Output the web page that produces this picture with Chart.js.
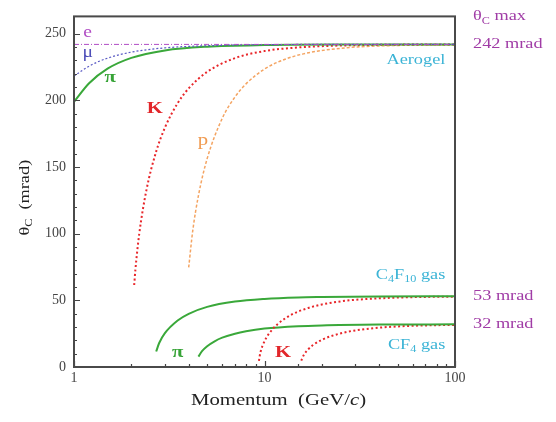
<!DOCTYPE html>
<html>
<head>
<meta charset="utf-8">
<script src="https://cdn.jsdelivr.net/npm/chart.js@4.4.1/dist/chart.umd.min.js"></script>
<style>
  html, body { margin: 0; padding: 0; background: #fff; }
  #wrap { width: 556px; height: 422px; position: relative; }
</style>
</head>
<body>
<div id="wrap"><canvas id="cherenkov"></canvas></div>
<script>
// Momentum samples (GeV/c) and Cherenkov angles (mrad) for each curve
const electronP = [1, 2, 5, 10, 30, 100];
const electronTheta = [242, 242, 242, 242, 242, 242];

const muonP = [1, 1.2, 1.5, 2, 3, 5, 10, 30, 100];
const muonTheta = [218.2, 225.7, 231.7, 236.2, 239.4, 241.0, 241.8, 242, 242];

const pionP = [1, 1.2, 1.5, 2, 3, 5, 10, 30, 100];
const pionTheta = [198.9, 212.9, 223.8, 231.9, 237.5, 240.3, 241.5, 241.9, 242];

const kaonP = [2.07, 2.1, 2.2, 2.4, 2.7, 3, 3.5, 4, 5, 7, 10, 15, 20, 30, 50, 100];
const kaonTheta = [61.5, 72.9, 99.8, 132.7, 161.6, 179.5, 197.9, 209.0, 221.4, 231.7, 237.0, 239.7, 240.7, 241.4, 241.8, 242];

const protonP = [4.0, 4.2, 4.5, 5, 6, 7, 8, 10, 13, 16, 20, 30, 50, 100];
const protonTheta = [74.7, 102.1, 128.6, 156.3, 186.5, 202.6, 212.4, 223.5, 231.2, 234.9, 237.4, 240.0, 241.2, 241.7];

const c4f10PionP = [2.7, 2.8, 3, 3.5, 4, 5, 7, 10, 15, 20, 40, 100];
const c4f10PionTheta = [11.6, 18.0, 25.4, 34.9, 39.9, 45.1, 49.1, 51.1, 52.2, 52.5, 52.9, 53.0];

const c4f10KaonP = [9.35, 9.5, 10, 11, 12, 14, 17, 20, 25, 30, 40, 60, 100];
const c4f10KaonTheta = [4.6, 10.4, 19.3, 28.2, 33.4, 39.6, 44.3, 46.9, 49.2, 50.4, 51.5, 52.4, 52.8];

const cf4PionP = [4.5, 4.7, 5, 5.5, 6, 7, 8, 10, 15, 20, 40, 100];
const cf4PionTheta = [7.8, 11.9, 15.6, 19.5, 22.0, 25.0, 26.8, 28.8, 30.6, 31.2, 31.8, 32.0];

const cf4KaonP = [15.6, 16, 17, 18, 20, 23, 27, 32, 40, 55, 75, 100];
const cf4KaonTheta = [4.7, 8.5, 13.4, 16.5, 20.4, 23.7, 26.3, 28.0, 29.5, 30.7, 31.3, 31.6];

// Saturation angles written at the right edge
const maxAngles = [242, 53, 32];

// Axis ranges and labelled ticks
const xMin = 1, xMax = 100;
const yMin = 0, yMax = 263;
const xLabelled = [1, 10, 100];
const yMajorStep = 50;

const SERIF = '"Liberation Serif", "DejaVu Serif", serif';
const STRETCH = 1.22; // the lettering is a bit wide

function pts(xs, ys) {
  return xs.map((x, i) => ({ x: x, y: ys[i] }));
}

function curve(label, xs, ys, color, width, dash) {
  return {
    label: label,
    data: pts(xs, ys),
    showLine: true,
    borderColor: color,
    backgroundColor: color,
    borderWidth: width,
    borderDash: dash,
    pointRadius: 0,
    cubicInterpolationMode: 'monotone',
    fill: false
  };
}

// draw a string made of pieces, some of them subscripts / italics
function drawPieces(ctx, pieces, x, y, size, color, align) {
  const fontFor = (p) => (p.italic ? 'italic ' : '') + (p.bold ? 'bold ' : '') + (p.sub ? Math.round(size * 0.68) : size) + 'px ' + SERIF;
  let total = 0;
  pieces.forEach(p => { ctx.font = fontFor(p); total += ctx.measureText(p.t).width; });
  const w = total * STRETCH;
  const left = align === 'right' ? x - w : align === 'center' ? x - w / 2 : x;
  ctx.save();
  ctx.translate(left, y);
  ctx.scale(STRETCH, 1);
  ctx.fillStyle = color;
  ctx.textAlign = 'left';
  ctx.textBaseline = 'middle';
  let cx = 0;
  pieces.forEach(p => {
    ctx.font = fontFor(p);
    ctx.fillText(p.t, cx, p.sub ? size * 0.3 : 0);
    cx += ctx.measureText(p.t).width;
  });
  ctx.restore();
}

// in-plot labels, anchored in data coordinates
const notes = [
  { at: [1.18, 251], pieces: [{ t: 'e' }], color: '#b04cc4', size: 16, align: 'center' },
  { at: [1.18, 236], pieces: [{ t: 'μ' }], color: '#4e4eb8', size: 16, align: 'center' },
  { at: [1.55, 217], pieces: [{ t: 'π', bold: true }], color: '#36a336', size: 17, align: 'center' },
  { at: [2.66, 194], pieces: [{ t: 'K', bold: true }], color: '#e2262a', size: 17, align: 'center' },
  { at: [4.75, 170], pieces: [{ t: 'p' }], color: '#f09a50', size: 17, align: 'center' },
  { at: [89, 230], pieces: [{ t: 'Aerogel' }], color: '#3cb4d6', size: 15, align: 'right' },
  { at: [89, 69], pieces: [{ t: 'C' }, { t: '4', sub: true }, { t: 'F' }, { t: '10', sub: true }, { t: ' gas' }], color: '#3cb4d6', size: 15, align: 'right' },
  { at: [89, 16.5], pieces: [{ t: 'CF' }, { t: '4', sub: true }, { t: ' gas' }], color: '#3cb4d6', size: 15, align: 'right' },
  { at: [3.5, 11], pieces: [{ t: 'π', bold: true }], color: '#36a336', size: 17, align: 'center' },
  { at: [12.5, 11], pieces: [{ t: 'K', bold: true }], color: '#e2262a', size: 17, align: 'center' }
];

const framePlugin = {
  id: 'frame',
  afterDatasetsDraw(chart) {
    const { ctx, chartArea: a, scales } = chart;
    const xs = scales.x, ys = scales.y;
    ctx.save();

    // inward tick marks
    ctx.strokeStyle = '#444';
    ctx.lineWidth = 1.2;
    ctx.beginPath();
    ys.ticks.forEach(t => {
      const py = Math.round(ys.getPixelForValue(t.value)) + 0.5;
      const len = t.value % yMajorStep === 0 ? 6 : 3;
      ctx.moveTo(a.left, py);
      ctx.lineTo(a.left + len, py);
    });
    xs.ticks.forEach(t => {
      const px = Math.round(xs.getPixelForValue(t.value)) + 0.5;
      const len = xLabelled.includes(t.value) ? 6 : 3;
      ctx.moveTo(px, a.bottom);
      ctx.lineTo(px, a.bottom - len);
    });
    ctx.stroke();

    // frame
    ctx.strokeStyle = '#4a4a4a';
    ctx.lineWidth = 2;
    ctx.strokeRect(a.left, a.top, a.right - a.left, a.bottom - a.top);

    // curve labels
    notes.forEach(n => {
      const px = xs.getPixelForValue(n.at[0]);
      const py = ys.getPixelForValue(n.at[1]);
      drawPieces(ctx, n.pieces, px, py, n.size, n.color, n.align);
    });

    // saturation angles outside the frame
    const purple = '#a03ca6';
    const rx = a.right + 18;
    const y242 = ys.getPixelForValue(maxAngles[0]);
    drawPieces(ctx, [{ t: 'θ' }, { t: 'C', sub: true }, { t: ' max' }], rx, y242 - 28, 15, purple, 'left');
    maxAngles.forEach(v => {
      drawPieces(ctx, [{ t: v + ' mrad' }], rx, ys.getPixelForValue(v), 15, purple, 'left');
    });

    // axis titles
    drawPieces(ctx, [{ t: 'Momentum  (GeV/' }, { t: 'c', italic: true }, { t: ')' }],
      (a.left + a.right) / 2 + 14, a.bottom + 34, 17, '#222', 'center');
    ctx.translate(25, (a.top + a.bottom) / 2 + 6);
    ctx.rotate(-Math.PI / 2);
    drawPieces(ctx, [{ t: 'θ' }, { t: 'C', sub: true }, { t: '  (mrad)' }], 0, 0, 15, '#222', 'center');
    ctx.restore();
  }
};

new Chart(document.getElementById('cherenkov'), {
  type: 'scatter',
  data: {
    datasets: [
      curve('e', electronP, electronTheta, '#b04cc4', 1, [5, 2, 1, 2]),
      curve('μ', muonP, muonTheta, '#5a5ac4', 1.2, [2, 2]),
      curve('π', pionP, pionTheta, '#3aa83a', 2, []),
      curve('K', kaonP, kaonTheta, '#e8262a', 2, [2, 2.5]),
      curve('p', protonP, protonTheta, '#f4a462', 1.5, [3, 2]),
      curve('π C4F10', c4f10PionP, c4f10PionTheta, '#3aa83a', 2, []),
      curve('K C4F10', c4f10KaonP, c4f10KaonTheta, '#e8262a', 2, [2, 2.5]),
      curve('π CF4', cf4PionP, cf4PionTheta, '#3aa83a', 2, []),
      curve('K CF4', cf4KaonP, cf4KaonTheta, '#e8262a', 2, [2, 2.5])
    ]
  },
  options: {
    responsive: true,
    maintainAspectRatio: false,
    animation: false,
    layout: { padding: { left: 0, right: 101, top: 16, bottom: 0 } },
    plugins: {
      legend: { display: false },
      tooltip: { enabled: false }
    },
    scales: {
      x: {
        type: 'logarithmic',
        min: xMin,
        max: xMax,
        grid: { display: false, drawTicks: false },
        border: { display: false },
        afterFit: s => { s.height = 55; },
        ticks: {
          autoSkip: false,
          maxRotation: 0,
          padding: 3,
          color: '#444',
          font: { family: SERIF, size: 14 },
          callback: v => (xLabelled.includes(v) ? String(v) : '')
        }
      },
      y: {
        min: yMin,
        max: yMax,
        grid: { display: false, drawTicks: false },
        border: { display: false },
        afterFit: s => { s.width = 74; },
        afterBuildTicks: s => {
          const t = [];
          for (let v = yMin; v <= 250; v += 10) t.push({ value: v });
          s.ticks = t;
        },
        ticks: {
          autoSkip: false,
          padding: 8,
          color: '#444',
          font: { family: SERIF, size: 14 },
          callback: v => (v % yMajorStep === 0 ? String(v) : '')
        }
      }
    }
  },
  plugins: [framePlugin]
});
</script>
</body>
</html>
